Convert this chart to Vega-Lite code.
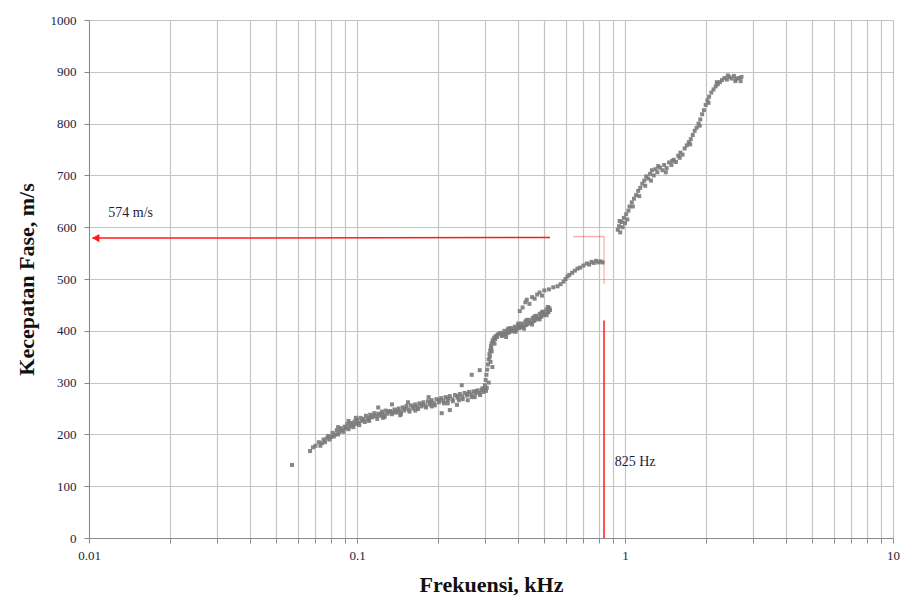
{
  "$schema": "https://vega.github.io/schema/vega-lite/v6.json",
  "width": 804,
  "height": 518,
  "autosize": "none",
  "padding": {"left": 89, "top": 20, "right": 24, "bottom": 76},
  "background": "white",
  "config": {
    "view": {"stroke": null},
    "axis": {
      "gridColor": "#c4c4c4",
      "gridWidth": 1.2,
      "domainColor": "#8a8a8a",
      "tickColor": "#8a8a8a",
      "labelFont": "Liberation Serif",
      "labelFontSize": 13,
      "labelColor": "#1c1c3c",
      "titleFont": "Liberation Serif",
      "titleFontSize": 22,
      "titleFontWeight": "bold",
      "titleColor": "#111111"
    }
  },
  "datasets": {
    "pts": [
      {"f":0.0572,"v":141},{"f":0.0668,"v":168},{"f":0.0685,"v":175},{"f":0.070,"v":178},{"f":0.072,"v":185},{"f":0.074,"v":183},{"f":0.075,"v":190},{"f":0.077,"v":192},{"f":0.078,"v":197},{"f":0.080,"v":195},{"f":0.081,"v":203},{"f":0.083,"v":200},{"f":0.084,"v":208},{"f":0.086,"v":205},{"f":0.087,"v":212},{"f":0.088,"v":208},{"f":0.090,"v":215},{"f":0.091,"v":212},{"f":0.092,"v":220},{"f":0.094,"v":215},{"f":0.095,"v":222},{"f":0.096,"v":218},{"f":0.098,"v":225},{"f":0.099,"v":220},{"f":0.100,"v":228},{"f":0.101,"v":222},{"f":0.103,"v":232},{"f":0.104,"v":226},
      {"f":0.073,"v":178},{"f":0.076,"v":185},{"f":0.079,"v":190},{"f":0.082,"v":196},{"f":0.085,"v":200},{"f":0.089,"v":205},{"f":0.093,"v":210},{"f":0.097,"v":214},{"f":0.102,"v":218},{"f":0.085,"v":214},{"f":0.093,"v":226},{"f":0.099,"v":232},
      {"f":0.106,"v":230},{"f":0.108,"v":236},{"f":0.110,"v":229},{"f":0.112,"v":238},{"f":0.114,"v":233},{"f":0.116,"v":241},{"f":0.118,"v":235},{"f":0.120,"v":240},{"f":0.122,"v":236},{"f":0.124,"v":244},{"f":0.126,"v":238},{"f":0.128,"v":246},{"f":0.130,"v":240},{"f":0.133,"v":245},{"f":0.135,"v":239},{"f":0.138,"v":248},{"f":0.140,"v":242},{"f":0.143,"v":250},{"f":0.145,"v":244},{"f":0.148,"v":252},{"f":0.150,"v":246},{"f":0.153,"v":255},{"f":0.156,"v":248},{"f":0.159,"v":256},{"f":0.162,"v":250},{"f":0.165,"v":258},{"f":0.168,"v":253},{"f":0.171,"v":260},{"f":0.174,"v":254},{"f":0.177,"v":262},{"f":0.180,"v":256},{"f":0.184,"v":264},{"f":0.187,"v":258},{"f":0.190,"v":266},{"f":0.194,"v":260},{"f":0.198,"v":268},{"f":0.202,"v":262},{"f":0.206,"v":270},{"f":0.210,"v":265},{"f":0.214,"v":272},{"f":0.218,"v":266},{"f":0.222,"v":274},{"f":0.227,"v":268},{"f":0.232,"v":276},{"f":0.237,"v":271},{"f":0.242,"v":278},{"f":0.247,"v":273},{"f":0.252,"v":280},{"f":0.257,"v":275},{"f":0.262,"v":282},{"f":0.267,"v":277},{"f":0.272,"v":283},{"f":0.277,"v":279},{"f":0.282,"v":285},{"f":0.287,"v":280},{"f":0.292,"v":286},{"f":0.296,"v":282},
      {"f":0.107,"v":224},{"f":0.111,"v":232},{"f":0.115,"v":236},{"f":0.119,"v":230},{"f":0.123,"v":240},{"f":0.127,"v":234},{"f":0.131,"v":244},{"f":0.136,"v":243},{"f":0.141,"v":246},{"f":0.146,"v":240},{"f":0.151,"v":250},{"f":0.157,"v":244},{"f":0.163,"v":254},{"f":0.169,"v":249},{"f":0.175,"v":258},{"f":0.181,"v":252},{"f":0.188,"v":262},{"f":0.195,"v":256},{"f":0.203,"v":266},{"f":0.211,"v":260},{"f":0.219,"v":270},{"f":0.228,"v":264},{"f":0.238,"v":274},{"f":0.248,"v":268},{"f":0.258,"v":278},{"f":0.268,"v":272},{"f":0.278,"v":283},{"f":0.288,"v":276},{"f":0.294,"v":289},
      {"f":0.120,"v":252},{"f":0.135,"v":258},{"f":0.155,"v":262},{"f":0.185,"v":272},{"f":0.207,"v":241},{"f":0.222,"v":247},{"f":0.236,"v":257},{"f":0.218,"v":260},{"f":0.259,"v":266},{"f":0.268,"v":315},{"f":0.287,"v":324},{"f":0.246,"v":295},{"f":0.111,"v":226},{"f":0.125,"v":232},{"f":0.145,"v":237},{"f":0.165,"v":246},{"f":0.19,"v":254},{"f":0.24,"v":266},{"f":0.275,"v":272},
      {"f":0.300,"v":288},{"f":0.300,"v":295},{"f":0.302,"v":305},{"f":0.304,"v":315},{"f":0.306,"v":325},{"f":0.308,"v":335},{"f":0.310,"v":345},{"f":0.312,"v":355},{"f":0.314,"v":362},{"f":0.316,"v":370},{"f":0.318,"v":376},{"f":0.321,"v":382},{"f":0.325,"v":387},{"f":0.330,"v":390},{"f":0.335,"v":393},{"f":0.340,"v":395},{"f":0.310,"v":300},{"f":0.315,"v":340},{"f":0.305,"v":290},{"f":0.320,"v":330},{"f":0.318,"v":360},{"f":0.326,"v":375},{"f":0.303,"v":284},{"f":0.313,"v":350},{"f":0.317,"v":366},{"f":0.323,"v":380},{"f":0.328,"v":384},{"f":0.333,"v":388},
      {"f":0.345,"v":396},{"f":0.350,"v":392},{"f":0.355,"v":400},{"f":0.360,"v":395},{"f":0.365,"v":403},{"f":0.370,"v":398},{"f":0.376,"v":405},{"f":0.382,"v":401},{"f":0.388,"v":408},{"f":0.394,"v":404},{"f":0.400,"v":411},{"f":0.406,"v":407},{"f":0.412,"v":414},{"f":0.418,"v":410},{"f":0.425,"v":418},{"f":0.432,"v":413},{"f":0.439,"v":421},{"f":0.446,"v":416},{"f":0.453,"v":425},{"f":0.460,"v":420},{"f":0.467,"v":429},{"f":0.474,"v":424},{"f":0.481,"v":433},{"f":0.488,"v":428},{"f":0.495,"v":437},{"f":0.502,"v":432},{"f":0.510,"v":441},{"f":0.518,"v":436},{"f":0.522,"v":444},{"f":0.36,"v":388},{"f":0.39,"v":398},{"f":0.42,"v":404},{"f":0.45,"v":412},{"f":0.48,"v":422},{"f":0.51,"v":430},
      {"f":0.347,"v":390},{"f":0.357,"v":394},{"f":0.367,"v":396},{"f":0.378,"v":399},{"f":0.391,"v":401},{"f":0.403,"v":405},{"f":0.415,"v":408},{"f":0.428,"v":411},{"f":0.442,"v":415},{"f":0.456,"v":419},{"f":0.470,"v":423},{"f":0.485,"v":427},{"f":0.499,"v":431},{"f":0.514,"v":436},{"f":0.525,"v":440},{"f":0.37,"v":405},{"f":0.40,"v":414},{"f":0.43,"v":421},{"f":0.46,"v":428},{"f":0.49,"v":436},{"f":0.515,"v":446},
      {"f":0.405,"v":438},{"f":0.415,"v":445},{"f":0.425,"v":455},{"f":0.43,"v":460},{"f":0.44,"v":452},{"f":0.45,"v":465},{"f":0.46,"v":462},{"f":0.47,"v":470},{"f":0.48,"v":474},{"f":0.49,"v":468},{"f":0.50,"v":478},{"f":0.52,"v":480},{"f":0.54,"v":484},{"f":0.56,"v":486},{"f":0.575,"v":490},{"f":0.59,"v":495},{"f":0.60,"v":500},{"f":0.61,"v":505},{"f":0.62,"v":508},{"f":0.635,"v":512},{"f":0.65,"v":516},{"f":0.665,"v":520},{"f":0.68,"v":522},{"f":0.70,"v":526},{"f":0.72,"v":530},{"f":0.735,"v":528},{"f":0.75,"v":533},{"f":0.765,"v":531},{"f":0.78,"v":535},{"f":0.795,"v":532},{"f":0.81,"v":534},{"f":0.825,"v":532},
      {"f":0.94,"v":595},{"f":0.95,"v":602},{"f":0.96,"v":590},{"f":0.97,"v":610},{"f":0.98,"v":600},{"f":0.99,"v":618},{"f":1.00,"v":608},{"f":1.01,"v":625},{"f":1.03,"v":632},{"f":1.04,"v":640},{"f":1.06,"v":648},{"f":1.08,"v":655},{"f":1.10,"v":662},{"f":1.12,"v":670},{"f":1.14,"v":676},{"f":1.16,"v":684},{"f":1.18,"v":690},{"f":1.20,"v":698},{"f":1.22,"v":694},{"f":1.24,"v":703},{"f":1.26,"v":710},{"f":1.28,"v":700},{"f":1.30,"v":712},{"f":1.32,"v":706},{"f":1.35,"v":715},{"f":1.38,"v":710},{"f":1.40,"v":720},{"f":1.43,"v":714},{"f":1.46,"v":725},{"f":1.49,"v":720},{"f":1.52,"v":730},{"f":1.55,"v":726},{"f":1.58,"v":738},{"f":1.61,"v":744},{"f":1.64,"v":740},{"f":1.67,"v":752},{"f":1.70,"v":758},{"f":1.73,"v":764},{"f":1.76,"v":770},{"f":1.79,"v":778},{"f":1.82,"v":786},{"f":1.85,"v":792},{"f":1.88,"v":800},{"f":1.91,"v":808},{"f":1.94,"v":818},{"f":1.97,"v":826},{"f":2.00,"v":836},{"f":2.03,"v":845},{"f":2.06,"v":852},{"f":2.10,"v":860},{"f":2.14,"v":866},{"f":2.18,"v":872},{"f":2.22,"v":876},{"f":2.26,"v":880},{"f":2.30,"v":884},{"f":2.35,"v":888},{"f":2.40,"v":885},{"f":2.45,"v":890},{"f":2.50,"v":887},{"f":2.55,"v":892},{"f":2.60,"v":886},{"f":2.65,"v":888},{"f":2.70,"v":882},{"f":2.72,"v":890},
      {"f":0.955,"v":612},{"f":1.02,"v":615},{"f":1.07,"v":640},{"f":1.13,"v":660},{"f":1.19,"v":680},{"f":1.25,"v":690},{"f":1.33,"v":718},{"f":1.42,"v":706},{"f":1.50,"v":728},{"f":1.60,"v":734},{"f":1.75,"v":760},{"f":1.90,"v":796},{"f":2.05,"v":840},{"f":2.20,"v":880},{"f":2.42,"v":893},{"f":2.58,"v":882}
    ],
    "lines": [
      {"x":0.0103,"x2":0.525,"y":579,"y2":580,"op":1.0},
      {"x":0.64,"x2":0.835,"y":582,"y2":582,"op":0.35},
      {"x":0.835,"x2":0.835,"y":582,"y2":490,"op":0.3},
      {"x":0.835,"x2":0.835,"y":0,"y2":420,"op":1.0}
    ],
    "labels": [
      {"x":0.0118,"y":627,"t":"574 m/s"},
      {"x":0.915,"y":147,"t":"825 Hz"}
    ],
    "arrow": [{"x":0.0106,"y":579}]
  },
  "layer": [
    {
      "data": {"name": "pts"},
      "mark": {"type": "point", "filled": true, "size": 16, "color": "#7a7a7a", "opacity": 0.9, "shape": "square"},
      "encoding": {
        "x": {
          "field": "f", "type": "quantitative",
          "scale": {"type": "log", "domain": [0.01, 10], "nice": false},
          "axis": {
            "title": "Frekuensi, kHz",
            "titlePadding": 12,
            "values": [0.01,0.02,0.03,0.04,0.05,0.06,0.07,0.08,0.09,0.1,0.2,0.3,0.4,0.5,0.6,0.7,0.8,0.9,1,2,3,4,5,6,7,8,9,10],
            "labelExpr": "datum.value == 0.01 ? '0.01' : datum.value == 0.1 ? '0.1' : datum.value == 1 ? '1' : datum.value == 10 ? '10' : ''",
            "tickSize": 5,
            "labelPadding": 6,
            "labelFlush": false
          }
        },
        "y": {
          "field": "v", "type": "quantitative",
          "scale": {"domain": [0, 1000], "nice": false},
          "axis": {
            "title": "Kecepatan Fase, m/s",
            "format": "d",
            "values": [0,100,200,300,400,500,600,700,800,900,1000],
            "tickSize": 5,
            "labelPadding": 8,
            "titlePadding": 12
          }
        }
      }
    },
    {
      "data": {"name": "lines"},
      "mark": {"type": "rule", "color": "#ff1a1a", "strokeWidth": 1.5},
      "encoding": {
        "x": {"field": "x", "type": "quantitative"},
        "x2": {"field": "x2"},
        "y": {"field": "y", "type": "quantitative"},
        "y2": {"field": "y2"},
        "opacity": {"field": "op", "type": "quantitative", "scale": null}
      }
    },
    {
      "data": {"name": "arrow"},
      "mark": {"type": "point", "shape": "triangle-left", "filled": true, "color": "#ff1a1a", "size": 70, "opacity": 1},
      "encoding": {
        "x": {"field": "x", "type": "quantitative"},
        "y": {"field": "y", "type": "quantitative"}
      }
    },
    {
      "data": {"name": "labels"},
      "mark": {"type": "text", "align": "left", "baseline": "middle", "font": "Liberation Serif", "fontSize": 14, "color": "#1c1c3c"},
      "encoding": {
        "x": {"field": "x", "type": "quantitative"},
        "y": {"field": "y", "type": "quantitative"},
        "text": {"field": "t"}
      }
    }
  ]
}
